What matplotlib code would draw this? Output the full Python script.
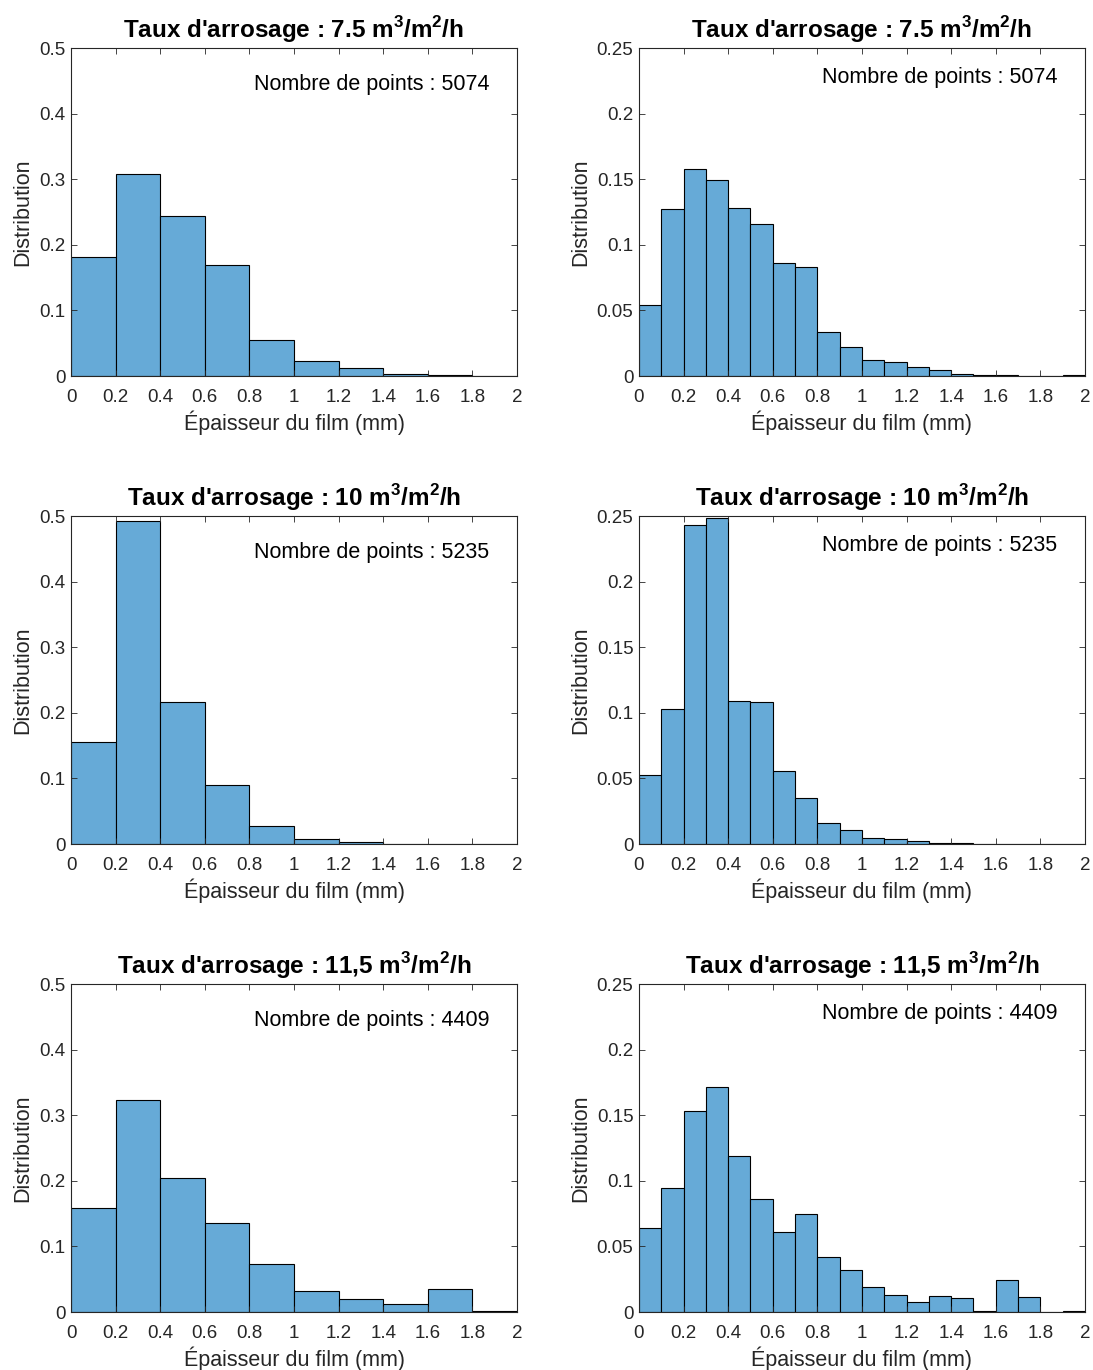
import numpy as np
import matplotlib
matplotlib.use('Agg')
import matplotlib.pyplot as plt

# rates and number of points
taux = ['7.5', '10', '11,5']
n_points = [5074, 5235, 4409]

# distributions, bin width 0.2 mm (left column)
dist_02_75 = [0.1815, 0.308, 0.244, 0.169, 0.0554, 0.0229, 0.0117, 0.003, 0.0015, 0.0005]
dist_02_10 = [0.1559, 0.4921, 0.217, 0.0907, 0.027, 0.0082, 0.003, 0.0005, 0.0002, 0.0002]
dist_02_115 = [0.159, 0.324, 0.2046, 0.1355, 0.0736, 0.0315, 0.0193, 0.0117, 0.0355, 0.001]

# distributions, bin width 0.1 mm (right column)
dist_01_75 = [0.0541, 0.1274, 0.158, 0.1495, 0.128, 0.116, 0.086, 0.083, 0.0335, 0.0223,
              0.0124, 0.0109, 0.0071, 0.0048, 0.0018, 0.0008, 0.0008, 0.0002, 0.0001, 0.0005]
dist_01_10 = [0.053, 0.1028, 0.2431, 0.2482, 0.1092, 0.1082, 0.0558, 0.0351, 0.016, 0.0107,
              0.0046, 0.0038, 0.0023, 0.001, 0.0005, 0.0002, 0.0001, 0.0001, 0.0001, 0.0001]
dist_01_115 = [0.0639, 0.0949, 0.1532, 0.1715, 0.1186, 0.0865, 0.0611, 0.0751, 0.0417, 0.0318,
               0.0188, 0.0127, 0.0076, 0.012, 0.0109, 0.0008, 0.0244, 0.0117, 0.0, 0.0005]

left_data = [dist_02_75, dist_02_10, dist_02_115]
right_data = [dist_01_75, dist_01_10, dist_01_115]

plt.rcParams['font.family'] = ['Liberation Sans', 'DejaVu Sans']
plt.rcParams['mathtext.fontset'] = 'custom'
plt.rcParams['mathtext.rm'] = 'Liberation Sans'
plt.rcParams['mathtext.bf'] = 'Liberation Sans:bold'
plt.rcParams['xtick.direction'] = 'in'
plt.rcParams['ytick.direction'] = 'in'

axcol = '#262626'
barcol = '#66AAD7'

fig = plt.figure(figsize=(10.93, 13.70), dpi=100)

lefts = [0.065, 0.5846]
bottoms = [0.7255, 0.3839, 0.0423]
w = 0.408
h = 0.2394

for row in range(3):
    for col in range(2):
        ax = fig.add_axes([lefts[col], bottoms[row], w, h])
        if col == 0:
            vals = left_data[row]
            width = 0.2
            ymax = 0.5
            yt = np.arange(0, 0.51, 0.1)
            ylab = ['0', '0.1', '0.2', '0.3', '0.4', '0.5']
            ty = 0.89
        else:
            vals = right_data[row]
            width = 0.1
            ymax = 0.25
            yt = np.arange(0, 0.251, 0.05)
            ylab = ['0', '0.05', '0.1', '0.15', '0.2', '0.25']
            ty = 0.91
        edges = np.arange(len(vals)) * width
        ax.bar(edges, vals, width=width, align='edge', color=barcol,
               edgecolor='black', linewidth=0.8)
        ax.set_xlim(0, 2)
        ax.set_ylim(0, ymax)
        ax.set_xticks(np.arange(0, 2.01, 0.2))
        ax.set_xticklabels(['0', '0.2', '0.4', '0.6', '0.8', '1', '1.2', '1.4', '1.6', '1.8', '2'])
        ax.set_yticks(yt)
        ax.set_yticklabels(ylab)
        ax.tick_params(top=True, right=True, labelsize=13.5, colors=axcol,
                       length=4, width=0.6)
        ax.tick_params(axis='x', pad=9.5)
        ax.tick_params(axis='y', pad=4)
        for s in ax.spines.values():
            s.set_color(axcol)
            s.set_linewidth(0.8)
        ax.set_xlabel('Épaisseur du film (mm)', fontsize=15.5, color=axcol, labelpad=3)
        ax.set_ylabel('Distribution', fontsize=15.5, color=axcol, labelpad=4)
        ax.set_title("Taux d'arrosage : " + taux[row] + r" m$^{\mathbf{3}}$/m$^{\mathbf{2}}$/h",
                     fontsize=17.5, fontweight='bold', pad=7)
        ax.text(0.938, ty, 'Nombre de points : %d' % n_points[row], transform=ax.transAxes,
                ha='right', va='center', fontsize=15.5)

plt.savefig('out.png', dpi=100)
